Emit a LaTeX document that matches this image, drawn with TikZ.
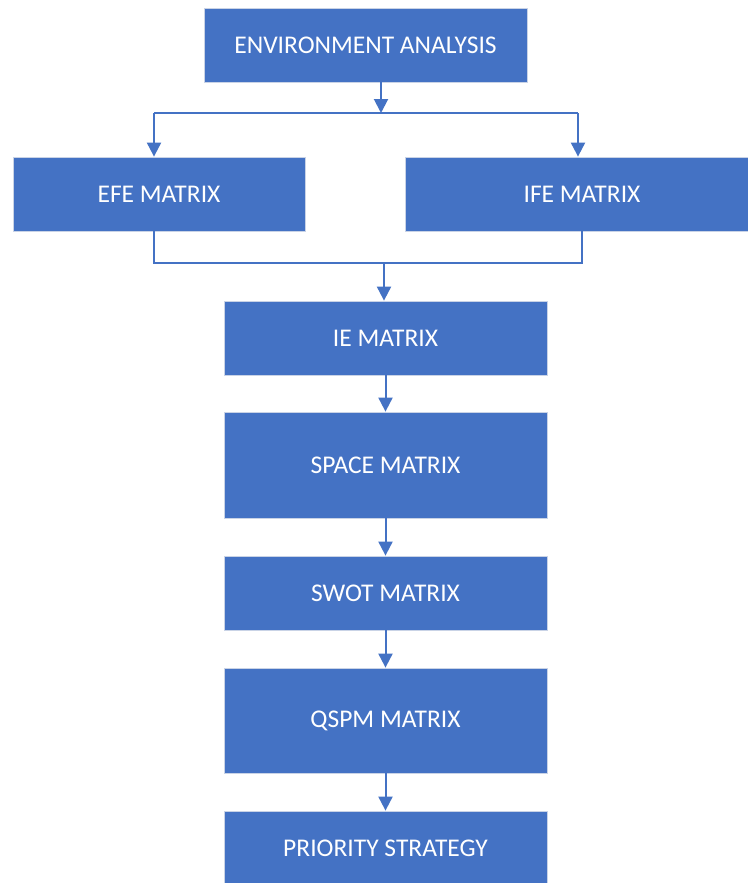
\documentclass[tikz,border=0pt]{standalone}
\usepackage{fontspec}
\setmainfont{Carlito}
\usetikzlibrary{arrows.meta}
\definecolor{boxblue}{HTML}{4472C4}
\definecolor{boxedge}{HTML}{C9D3E6}
\begin{document}
\begin{tikzpicture}[x=1pt,y=-1pt,
  box/.style={rectangle,fill=boxblue,draw=boxedge,line width=0.8pt,inner sep=0pt,
    text=white,font=\fontsize{25.5}{30}\selectfont},
  ln/.style={draw=boxblue,line width=2pt},
  arr/.style={ln,-{Triangle[width=14pt,length=14pt]}}]
\useasboundingbox[fill=white] (0,0) rectangle (747,883);
\node[box,minimum width=323pt,minimum height=74pt] (env) at (365.5,45) {ENVIRONMENT ANALYSIS};
\node[box,minimum width=292pt,minimum height=74pt] (efe) at (159,194) {EFE MATRIX};
\node[box,minimum width=350pt,minimum height=74pt] (ife) at (580,194) {};
\node[text=white,font=\fontsize{25.5}{30}\selectfont] (ifet) at (582,194) {IFE MATRIX};
\node[box,minimum width=323pt,minimum height=74pt] (ie) at (385.5,338) {IE MATRIX};
\node[box,minimum width=323pt,minimum height=106pt] (space) at (385.5,465) {SPACE MATRIX};
\node[box,minimum width=323pt,minimum height=74pt] (swot) at (385.5,593) {SWOT MATRIX};
\node[box,minimum width=323pt,minimum height=105pt] (qspm) at (385.5,720.5) {QSPM MATRIX};
\node[box,minimum width=323pt,minimum height=80pt] (prio) at (385.5,851) {};
\node[text=white,font=\fontsize{25.5}{30}\selectfont] (priot) at (385.5,848) {PRIORITY STRATEGY};
\coordinate (h1) at (381,113);
\coordinate (hl) at (154,113);
\coordinate (hr) at (578,113);
\coordinate (bl) at (154,263);
\coordinate (br) at (582,263);
\coordinate (bm) at (384,263);
\draw[arr] (env.south -| h1) -- (h1);
\draw[ln] (hl) -- (hr);
\draw[arr] (hl) -- (efe.north -| hl);
\draw[arr] (hr) -- (ife.north -| hr);
\draw[ln] (efe.south -| bl) -- (bl) -- (br) -- (ife.south -| br);
\draw[arr] (bm) -- (ie.north -| bm);
\draw[arr] (ie.south) -- (space.north);
\draw[arr] (space.south) -- (swot.north);
\draw[arr] (swot.south) -- (qspm.north);
\draw[arr] (qspm.south) -- (prio.north);
\end{tikzpicture}
\end{document}
